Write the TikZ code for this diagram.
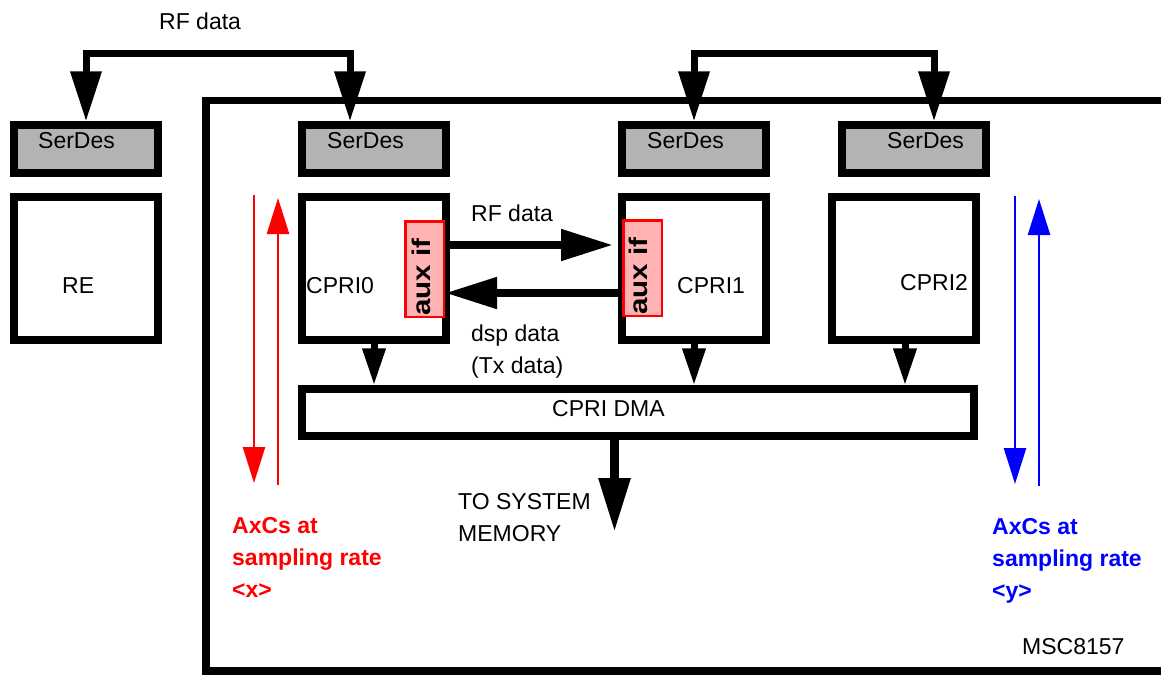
\documentclass[tikz,border=0pt]{standalone}
\usepackage{fontspec}
\usepackage{graphicx}
\setmainfont{Liberation Sans}
\usetikzlibrary{arrows.meta,calc}
\definecolor{sdgray}{RGB}{179,179,179}
\definecolor{auxpink}{RGB}{255,179,179}
\begin{document}
\begin{tikzpicture}[x=1pt,y=-1pt,
  lbl/.style={anchor=base west, inner sep=0pt, font=\fontsize{23}{28}\selectfont},
  redlbl/.style={lbl, text=red, font=\fontsize{23}{28}\selectfont\bfseries},
  bluelbl/.style={lbl, text=blue, font=\fontsize{23}{28}\selectfont\bfseries},
  auxtxt/.style={anchor=base west, inner sep=0pt, rotate=90, font=\fontsize{25.5}{30}\selectfont\bfseries},
  box/.style={draw, line width=7.5pt, minimum width=144pt, minimum height=143pt, inner sep=0pt},
  serdes/.style={box, fill=sdgray, minimum height=48pt},
  auxbox/.style={draw=red, fill=auxpink, line width=2.5pt, minimum width=38.5pt, minimum height=95.5pt, inner sep=0pt},
  bracket/.style={line width=7pt, {Triangle[length=50pt,width=30pt]}-{Triangle[length=50pt,width=30pt]}},
  harrow/.style={line width=8pt, -{Triangle[length=52pt,width=30pt]}},
  darrow/.style={line width=7pt, -{Triangle[length=37pt,width=22pt]}},
  memarrow/.style={line width=9pt, -{Triangle[length=54pt,width=30pt]}},
  thinarrow/.style={line width=2.5pt, -{Triangle[length=36pt,width=22pt]}},
]
\useasboundingbox (0,0) rectangle (1161,675);
% frame of the device
\draw[line width=7.5pt] (1170,100.5) -- (206,100.5) -- (206,671) -- (1170,671);
% SerDes boxes
\node[serdes] (sd1) at (86,149) {};
\node[serdes] (sd2) at (374,149) {};
\node[serdes] (sd3) at (694,149) {};
\node[serdes] (sd4) at (914,149) {};
\node[lbl] (sd1t) at (38,148) {SerDes};
\node[lbl] (sd2t) at (327,148) {SerDes};
\node[lbl] (sd3t) at (647,148) {SerDes};
\node[lbl] (sd4t) at (887,148) {SerDes};
% main boxes
\node[box] (re) at (86,268.5) {};
\node[box] (cpri0) at (374,268.5) {};
\node[box] (cpri1) at (694,268.5) {};
\node[box] (cpri2) at (904,268.5) {};
\node[lbl] (ret) at (62,293) {RE};
\node[lbl] (c0t) at (306,293) {CPRI0};
\node[lbl] (c1t) at (677,293) {CPRI1};
\node[lbl] (c2t) at (900,290) {CPRI2};
% DMA
\node[box, minimum width=672pt, minimum height=47pt] (dma) at (638,412.5) {};
\node[lbl] (dmat) at (552,416) {CPRI DMA};
% aux if boxes
\node[auxbox] (aux0) at (424.5,269) {};
\node[auxbox] (aux1) at (642.5,268) {};
\node[auxtxt] (aux0t) at (430,316) {\scalebox{1.16}[1]{aux if}};
\node[auxtxt] (aux1t) at (647,315) {\scalebox{1.16}[1]{aux if}};
% top brackets
\coordinate (ytop) at (0,53.5);
\draw[bracket] (sd1.north) -- (sd1.north |- ytop) -| ([xshift=-24pt]sd2.north);
\draw[bracket] (sd3.north) -- (sd3.north |- ytop) -| ([xshift=20pt]sd4.north);
\node[lbl] (rft) at (159,29) {RF data};
% aux interface arrows
\draw[harrow, shorten >=9pt] ([yshift=24pt]aux0.east) -- ([yshift=24pt]aux0.east -| aux1.west);
\draw[harrow] ([yshift=-25pt]aux1.west) -- ([yshift=-25pt]aux1.west -| aux0.east);
\node[lbl] (rf2t) at (471,221) {RF data};
\node[lbl] (dspt) at (471,341) {dsp data};
\node[lbl] (txt) at (471,373) {(Tx data)};
% CPRI to DMA
\draw[darrow] (cpri0.south) -- (cpri0.south |- dma.north);
\draw[darrow] (cpri1.south) -- (cpri1.south |- dma.north);
\draw[darrow] ([xshift=1pt]cpri2.south) -- ([xshift=1pt]cpri2.south |- dma.north);
% DMA to memory
\coordinate (mem) at (614.5,532);
\draw[memarrow] (dma.south -| mem) -- (mem);
\node[lbl] (mem1) at (458,509) {TO SYSTEM};
\node[lbl] (mem2) at (458,541) {MEMORY};
% red AxC arrows
\coordinate (r1a) at (254,195);
\coordinate (r1b) at (254,483);
\coordinate (r2a) at (278,485);
\coordinate (r2b) at (278,198);
\draw[thinarrow, red] (r1a) -- (r1b);
\draw[thinarrow, red] (r2a) -- (r2b);
\node[redlbl] (rl1) at (232,533) {AxCs at};
\node[redlbl] (rl2) at (232,565) {sampling rate};
\node[redlbl] (rl3) at (232,597) {<x>};
% blue AxC arrows
\coordinate (b1a) at (1015,196);
\coordinate (b1b) at (1015,484);
\coordinate (b2a) at (1039,486);
\coordinate (b2b) at (1039,199);
\draw[thinarrow, blue] (b1a) -- (b1b);
\draw[thinarrow, blue] (b2a) -- (b2b);
\node[bluelbl] (bl1) at (992,534) {AxCs at};
\node[bluelbl] (bl2) at (992,566) {sampling rate};
\node[bluelbl] (bl3) at (992,598) {<y>};
% device name
\node[lbl] (msc) at (1022,654) {MSC8157};
\end{tikzpicture}
\end{document}
